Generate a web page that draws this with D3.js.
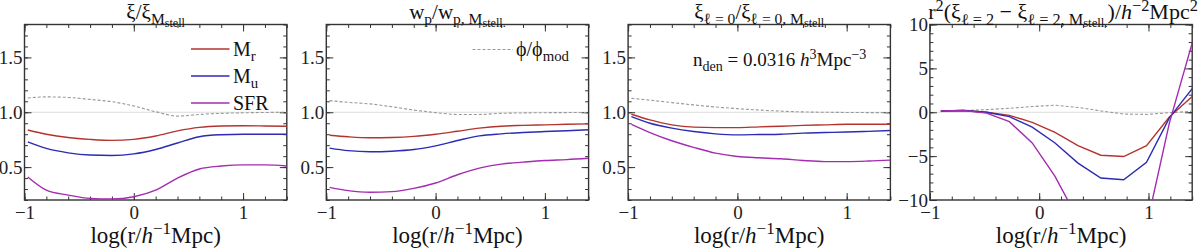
<!DOCTYPE html>
<html>
<head>
<meta charset="utf-8">
<script src="https://cdn.jsdelivr.net/npm/d3@7"></script>
<style>
  body { margin: 0; background: #fff; }
  svg { display: block; font-family: "Liberation Serif", "Times New Roman", serif; }
  .tick text { font-family: "Liberation Serif", "Times New Roman", serif; font-size: 19px; fill: #222; }
  .tick line { stroke: #333; }
</style>
</head>
<body>
<div id="chart"></div>
<script>
// x grid for the smooth panels (log r)
var xSmooth = [-0.97, -0.8, -0.6, -0.4, -0.2, 0, 0.2, 0.4, 0.6, 0.8, 1.0, 1.2, 1.4];
// x grid (bins) for the quadrupole panel
var xBins = [-0.9, -0.691, -0.482, -0.273, -0.064, 0.145, 0.355, 0.564, 0.773, 0.982, 1.191, 1.4];

// panel 1: xi / xi_Mstell
var xiMr   = [0.838, 0.80, 0.77, 0.753, 0.744, 0.753, 0.783, 0.83, 0.862, 0.874, 0.877, 0.875, 0.872];
var xiMu   = [0.73, 0.67, 0.63, 0.61, 0.606, 0.62, 0.66, 0.72, 0.777, 0.795, 0.80, 0.80, 0.80];
var xiSFR  = [0.41, 0.29, 0.245, 0.215, 0.21, 0.23, 0.29, 0.40, 0.483, 0.51, 0.52, 0.52, 0.51];
var xiPhi  = [1.13, 1.14, 1.135, 1.117, 1.096, 1.057, 1.005, 0.965, 0.98, 0.99, 0.995, 0.998, 1.0];

// panel 2: wp / wp_Mstell
var wpMr   = [0.79, 0.776, 0.767, 0.77, 0.78, 0.80, 0.827, 0.855, 0.873, 0.88, 0.885, 0.89, 0.894];
var wpMu   = [0.673, 0.65, 0.64, 0.645, 0.66, 0.694, 0.742, 0.785, 0.803, 0.815, 0.824, 0.832, 0.84];
var wpSFR  = [0.315, 0.285, 0.27, 0.276, 0.306, 0.355, 0.43, 0.49, 0.527, 0.545, 0.56, 0.568, 0.58];
var wpPhi  = [1.106, 1.09, 1.076, 1.05, 1.02, 0.997, 0.98, 0.98, 0.99, 0.994, 0.996, 0.997, 0.998];

// panel 3: monopole ratio
var monoMr  = [0.982, 0.93, 0.885, 0.864, 0.86, 0.86, 0.867, 0.873, 0.88, 0.885, 0.89, 0.89, 0.89];
var monoMu  = [0.96, 0.90, 0.855, 0.824, 0.803, 0.794, 0.797, 0.80, 0.81, 0.815, 0.82, 0.826, 0.833];
var monoSFR = [0.89, 0.815, 0.74, 0.68, 0.627, 0.597, 0.585, 0.576, 0.56, 0.55, 0.55, 0.555, 0.564];
var monoPhi = [1.127, 1.11, 1.088, 1.067, 1.048, 1.033, 1.02, 1.01, 1.003, 1.0, 0.998, 0.997, 0.997];

// panel 4: r^2 (quadrupole difference)
var quadMr  = [0.15, 0.2, 0.0, -0.35, -1.15, -2.3, -3.8, -4.9, -5.05, -3.8, -0.54, 1.8];
var quadMu  = [0.15, 0.2, 0.0, -0.5, -1.7, -3.5, -5.8, -7.5, -7.7, -5.7, -0.64, 2.7];
var quadSFR = [0.15, 0.2, -0.1, -1.07, -3.5, -7.3, -12.2, -15, -15.5, -13.0, -1.24, 7.9];
var quadPhi = [0.1, 0.2, 0.3, 0.45, 0.65, 0.8, 0.55, 0.15, -0.2, -0.25, -0.05, 0.1];

var xTicks = [-1, 0, 1];
var ratioTicks = [0.5, 1.0, 1.5];
var quadTicks = [-10, -5, 0, 5, 10];
var seriesNames = ["Mr", "Mu", "SFR"];
var colors = ["#b3342f", "#2b2bb3", "#a42cb0"];

var W = 1200, H = 249;
var svg = d3.select("#chart").append("svg").attr("width", W).attr("height", H);

var plotTop = 24.5, plotBottom = 200, pw = 262.3;
var lefts = [24.5, 326.3, 628.1, 929.9];

// text with sub/superscripts: parts = [[text, kind, italic]]
function richText(sel, parts, size) {
  var cur = 0;
  parts.forEach(function(p) {
    var kind = p[1] || "", target = 0, fs = size;
    if (kind == "sub") { target = size * 0.25; fs = size * 0.74; }
    if (kind == "subsub") { target = size * 0.38; fs = size * 0.58; }
    if (kind == "sup") { target = -size * 0.38; fs = size * 0.74; }
    var t = sel.append("tspan").attr("dy", target - cur).style("font-size", fs + "px").text(p[0]);
    if (p[2]) t.style("font-style", "italic");
    cur = target;
  });
}

var panels = [
  { xs: xSmooth, ys: [xiMr, xiMu, xiSFR], phi: xiPhi, dom: [0.2, 1.8], ref: 1, major: ratioTicks, minor: 0.1, curve: d3.curveMonotoneX,
    title: [["ξ/ξ"], ["M", "sub"], ["stell", "subsub"]] },
  { xs: xSmooth, ys: [wpMr, wpMu, wpSFR], phi: wpPhi, dom: [0.2, 1.8], ref: 1, major: ratioTicks, minor: 0.1, curve: d3.curveMonotoneX,
    title: [["w"], ["p", "sub"], ["/w", ""], ["p, M", "sub"], ["stell.", "subsub"]] },
  { xs: xSmooth, ys: [monoMr, monoMu, monoSFR], phi: monoPhi, dom: [0.2, 1.8], ref: 1, major: ratioTicks, minor: 0.1, curve: d3.curveMonotoneX,
    title: [["ξ"], ["ℓ = 0", "sub"], ["/ξ", ""], ["ℓ = 0, M", "sub"], ["stell", "subsub"]] },
  { xs: xBins, ys: [quadMr, quadMu, quadSFR], phi: quadPhi, dom: [-10, 10], ref: 0, major: quadTicks, minor: 1, curve: d3.curveLinear,
    title: [["r"], ["2", "sup"], ["(ξ", ""], ["ℓ = 2", "sub"], [" − ξ", ""], ["ℓ = 2, M", "sub"], ["stell.", "subsub"], [")/", ""], ["h", "", true], ["−2", "sup"], ["Mpc", ""], ["2", "sup"]] }
];

panels.forEach(function(p, i) {
  var x = d3.scaleLinear().domain([-1, 1.4]).range([lefts[i], lefts[i] + pw]);
  var y = d3.scaleLinear().domain(p.dom).range([plotBottom, plotTop]);
  var g = svg.append("g");

  g.append("clipPath").attr("id", "clip" + i)
    .append("rect").attr("x", lefts[i]).attr("y", plotTop).attr("width", pw).attr("height", plotBottom - plotTop);

  // reference line
  g.append("line")
    .attr("x1", lefts[i]).attr("x2", lefts[i] + pw)
    .attr("y1", y(p.ref)).attr("y2", y(p.ref))
    .attr("stroke", "#dcdcdc").attr("stroke-width", 1);

  var xMinor = d3.range(-1, 1.401, 0.2);
  var yMinor = d3.range(p.dom[0], p.dom[1] + 1e-6, p.minor);

  function addAxis(axis, tx, ty) {
    var a = g.append("g").attr("transform", "translate(" + tx + "," + ty + ")").call(axis);
    a.select(".domain").remove();
    return a;
  }
  // minor ticks on all four sides
  addAxis(d3.axisBottom(x).tickValues(xMinor).tickSize(-3.5).tickFormat(""), 0, plotBottom);
  addAxis(d3.axisTop(x).tickValues(xMinor).tickSize(-3.5).tickFormat(""), 0, plotTop);
  addAxis(d3.axisLeft(y).tickValues(yMinor).tickSize(-3.5).tickFormat(""), lefts[i], 0);
  addAxis(d3.axisRight(y).tickValues(yMinor).tickSize(-3.5).tickFormat(""), lefts[i] + pw, 0);
  // major ticks
  addAxis(d3.axisBottom(x).tickValues(xTicks).tickSize(-7).tickPadding(6)
    .tickFormat(function(d) { return d < 0 ? "−" + (-d) : d; }), 0, plotBottom);
  addAxis(d3.axisTop(x).tickValues(xTicks).tickSize(-7).tickFormat(""), 0, plotTop);
  addAxis(d3.axisLeft(y).tickValues(p.major).tickSize(-7).tickPadding(2)
    .tickFormat(function(d) { var s = p.minor < 1 ? d3.format(".1f")(d) : d3.format("d")(Math.abs(d)); return d < 0 ? "−" + s : s; }), lefts[i], 0);
  addAxis(d3.axisRight(y).tickValues(p.major).tickSize(-7).tickFormat(""), lefts[i] + pw, 0);

  // frame
  g.append("rect").attr("x", lefts[i]).attr("y", plotTop).attr("width", pw).attr("height", plotBottom - plotTop)
    .attr("fill", "none").attr("stroke", "#333").attr("stroke-width", 1.4);

  var line = d3.line()
    .x(function(d, k) { return x(p.xs[k]); })
    .y(function(d) { return y(d); })
    .curve(p.curve);

  var plot = g.append("g").attr("clip-path", "url(#clip" + i + ")");
  plot.append("path").attr("d", line(p.phi))
    .attr("fill", "none").attr("stroke", "#999").attr("stroke-width", 1.1).attr("stroke-dasharray", "3,2");
  p.ys.forEach(function(vals, k) {
    plot.append("path").attr("d", line(vals))
      .attr("fill", "none").attr("stroke", colors[k]).attr("stroke-width", 1.4);
  });

  // title
  var ts = i == 3 ? 22 : 21;
  var t = svg.append("text").attr("x", lefts[i] + pw / 2 + (i == 3 ? 2 : 0)).attr("y", 19)
    .attr("text-anchor", "middle").style("font-size", ts + "px").attr("fill", "#111");
  richText(t, p.title, ts);

  // x label
  var xl = svg.append("text").attr("x", lefts[i] + pw / 2).attr("y", 243)
    .attr("text-anchor", "middle").style("font-size", "23px").attr("fill", "#111");
  richText(xl, [["log(r/"], ["h", "", true], ["−1", "sup"], ["Mpc)", ""]], 23);
});

// legend in panel 1
var legendLabels = [[["M"], ["r", "sub"]], [["M"], ["u", "sub"]], [["SFR"]]];
legendLabels.forEach(function(lab, k) {
  var ly = 49 + k * 27;
  svg.append("line").attr("x1", 191).attr("x2", 229.5).attr("y1", ly).attr("y2", ly)
    .attr("stroke", colors[k]).attr("stroke-width", 1.4);
  var t = svg.append("text").attr("x", 233).attr("y", ly + 6.5).style("font-size", "20px").attr("fill", "#111");
  richText(t, lab, 20);
});

// phi legend in panel 2
svg.append("line").attr("x1", 472.5).attr("x2", 513).attr("y1", 49.5).attr("y2", 49.5)
  .attr("stroke", "#999").attr("stroke-width", 1.1).attr("stroke-dasharray", "3,2");
var pt = svg.append("text").attr("x", 516).attr("y", 56).style("font-size", "20px").attr("fill", "#111");
richText(pt, [["ϕ/ϕ"], ["mod", "sub"]], 20);

// number density note in panel 3
var nt = svg.append("text").attr("x", 693).attr("y", 66).style("font-size", "19px").attr("fill", "#111");
richText(nt, [["n"], ["den", "sub"], [" = 0.0316 ", ""], ["h", "", true], ["3", "sup"], ["Mpc", ""], ["−3", "sup"]], 19);
</script>
</body>
</html>
